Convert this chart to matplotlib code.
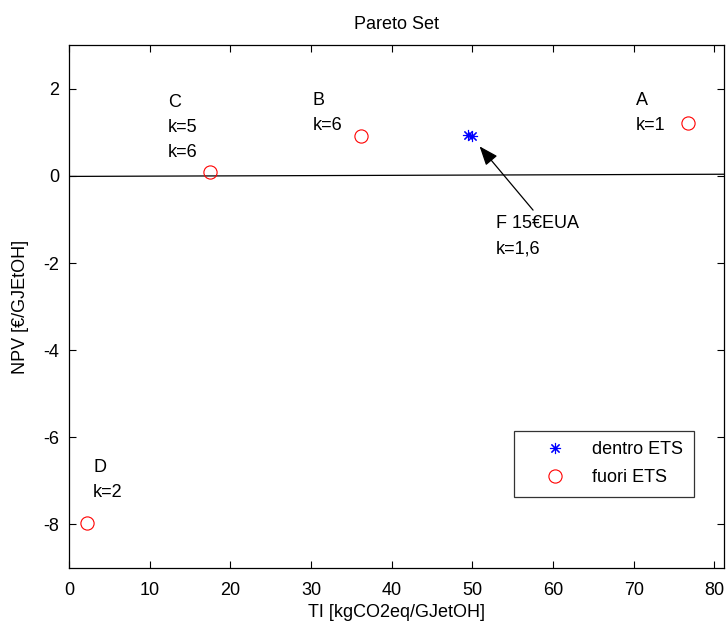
import matplotlib
matplotlib.use("Agg")
import matplotlib.pyplot as plt

plt.rcParams['font.family'] = ['Liberation Sans', 'DejaVu Sans']
plt.rcParams['axes.unicode_minus'] = False

# Solutions outside the ETS (TI, NPV)
fuori_x = [76.7, 36.2, 17.5, 2.2]
fuori_y = [1.22, 0.92, 0.08, -7.96]
fuori_lab = ["A\nk=1", "B\nk=6", "C\nk=5\nk=6", "D\nk=2"]
lab_x = [70.3, 30.2, 12.3, 3.0]
lab_y = [1.93, 1.93, 1.88, -6.49]

# Solutions inside the ETS
dentro_x = [49.5, 49.9]
dentro_y = [0.95, 0.92]

# Reference line
ref_x = [0.0, 81.2]
ref_y = [-0.01, 0.04]

xticks = [0, 10, 20, 30, 40, 50, 60, 70, 80]
yticks = [-8, -6, -4, -2, 0, 2]

FS = 13

fig = plt.figure(figsize=(7.26, 6.22), dpi=100)
ax = fig.add_axes([69 / 726, 1 - 568 / 622, 655 / 726, (568 - 45.3) / 622])

ax.plot(ref_x, ref_y, color='black', lw=0.9)
ax.plot(dentro_x, dentro_y, linestyle='none', marker=(8, 2, 0), ms=8,
        mec='#0000ff', mew=0.8, label='dentro ETS')
ax.plot(fuori_x, fuori_y, linestyle='none', marker='o', ms=9.5,
        mfc='none', mec='#ff0000', mew=0.8, label='fuori ETS')

for t, x, y in zip(fuori_lab, lab_x, lab_y):
    ax.text(x, y, t, fontsize=FS, ha='left', va='top', linespacing=1.62)

ax.annotate("F 15€EUA\nk=1,6", xy=(50.9, 0.68), xytext=(52.9, -0.9),
            fontsize=FS, ha='left', va='top', linespacing=1.62,
            arrowprops=dict(arrowstyle='-|>,head_length=0.9,head_width=0.35',
                            color='black', lw=0.9, shrinkA=0, shrinkB=0,
                            relpos=(0.45, 1.12)))

ax.set_xlim(0, 81.2)
ax.set_ylim(-9, 3)
ax.set_xticks(xticks)
ax.set_yticks(yticks)
ax.tick_params(direction='in', top=True, right=True, length=5, width=0.8,
               labelsize=FS)
ax.tick_params(axis='x', pad=10)
ax.tick_params(axis='y', pad=7)
for s in ax.spines.values():
    s.set_linewidth(0.9)

ax.set_title("Pareto Set", fontsize=FS, pad=12)
ax.set_xlabel("TI [kgCO2eq/GJetOH]", fontsize=FS, labelpad=4)
ax.set_ylabel("NPV [€/GJEtOH]", fontsize=FS, labelpad=10)

leg = ax.legend(loc='lower right', bbox_to_anchor=(694 / 726, 1 - 497 / 622),
                bbox_transform=fig.transFigure, fontsize=FS, frameon=True,
                fancybox=False, edgecolor='black', borderpad=0.6,
                handlelength=3.4, handletextpad=0.35, labelspacing=0.6,
                borderaxespad=0)
leg.get_frame().set_linewidth(0.9)

fig.savefig("out.png", dpi=100)
